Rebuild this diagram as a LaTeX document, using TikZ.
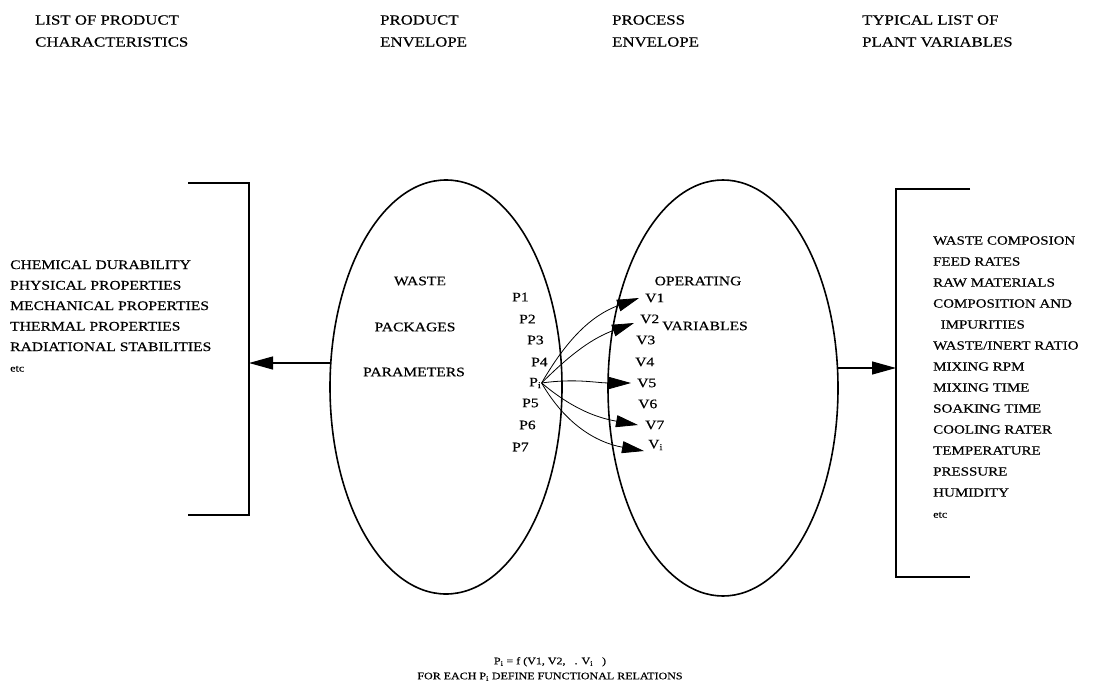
\documentclass[tikz,border=0pt]{standalone}
\usepackage{fontspec}
\setmainfont[FakeStretch=1.2,FakeBold=0.4]{Liberation Serif}
\usetikzlibrary{shapes.geometric,arrows.meta}

\tikzset{
  txt/.style={font=\fontsize{13}{20.5}\selectfont, inner sep=0},
  head/.style={font=\fontsize{14}{22}\selectfont, inner sep=0, align=left, anchor=west},
  env/.style={draw, line width=1.6pt, ellipse, inner sep=0},
  bigtip/.style={line width=1.2pt, -{Triangle[length=24pt,width=13pt]}},
  smalltip/.style={line width=0.8pt, -{Triangle[length=22pt,width=12pt]}},
}

\begin{document}
\begin{tikzpicture}[x=1pt,y=1pt]
\useasboundingbox (0,0) rectangle (1099,-695);
%
\node[head] (hlist) at (35,-31) {LIST OF PRODUCT\\CHARACTERISTICS};
\node[head] (hprod) at (380,-31) {PRODUCT\\ENVELOPE};
\node[head] (hproc) at (612,-31) {PROCESS\\ENVELOPE};
\node[head] (htyp) at (862,-31) {TYPICAL LIST OF\\PLANT VARIABLES};
%
\node[env, minimum width=232pt, minimum height=414pt] (penv) at (446,-387) {};
\node[env, minimum width=230pt, minimum height=416pt] (venv) at (723,-388) {};
%
\node[txt] (waste) at (420,-281) {WASTE};
\node[txt] (pack) at (415,-327) {PACKAGES};
\node[txt] (param) at (414,-372) {PARAMETERS};
\node[txt] (oper) at (698,-281) {OPERATING};
\node[txt] (vars) at (705,-326) {VARIABLES};
%
\node[txt, anchor=west] (p1) at (512,-297) {P1};
\node[txt, anchor=west] (p2) at (519,-319) {P2};
\node[txt, anchor=west] (p3) at (527,-340) {P3};
\node[txt, anchor=west] (p4) at (531,-362) {P4};
\node[txt, anchor=west] (pi) at (529,-383) {P\textsubscript{i}};
\node[txt, anchor=west] (p5) at (522,-403) {P5};
\node[txt, anchor=west] (p6) at (519,-425) {P6};
\node[txt, anchor=west] (p7) at (512,-447) {P7};
%
\node[txt, anchor=west] (v1) at (645,-298) {V1};
\node[txt, anchor=west] (v2) at (640,-319) {V2};
\node[txt, anchor=west] (v3) at (636,-340) {V3};
\node[txt, anchor=west] (v4) at (635,-362) {V4};
\node[txt, anchor=west] (v5) at (637,-383) {V5};
\node[txt, anchor=west] (v6) at (638,-404) {V6};
\node[txt, anchor=west] (v7) at (645,-425) {V7};
\node[txt, anchor=west] (vi) at (648,-445) {V\textsubscript{i}};
%
\draw[smalltip] (pi.east) to[out=60,in=200] ([xshift=-6pt]v1.west);
\draw[smalltip] (pi.east) to[out=45,in=200] ([xshift=-6pt,yshift=-4pt]v2.west);
\draw[smalltip] (pi.east) to[out=8,in=180] ([xshift=-6pt]v5.west);
\draw[smalltip] (pi.east) to[out=-40,in=170] ([xshift=-7pt]v7.west);
\draw[smalltip] (pi.east) to[out=-60,in=170] ([xshift=-4pt,yshift=-6pt]vi.west);
%
\draw[line width=1.5pt] (188,-183) -- (249,-183) -- (249,-515) -- (188,-515);
\coordinate (lbr) at (249,-363);
\coordinate (lout) at (331,-363);
\draw[bigtip] (lout) -- (lbr);
\node[txt, anchor=west, align=left] (chars) at (10,-316) {CHEMICAL DURABILITY\\PHYSICAL PROPERTIES\\MECHANICAL PROPERTIES\\THERMAL PROPERTIES\\RADIATIONAL STABILITIES\\{\fontsize{10}{20.5}\selectfont etc}};
%
\draw[line width=1.5pt] (970,-189) -- (896,-189) -- (896,-577) -- (970,-577);
\coordinate (rbr) at (896,-368);
\coordinate (rout) at (837,-368);
\draw[bigtip] (rout) -- (rbr);
\node[txt, anchor=west, align=left, font=\fontsize{12.5}{21}\selectfont] (plant) at (933,-377) {WASTE COMPOSION\\FEED RATES\\RAW MATERIALS\\COMPOSITION AND\\\ \ IMPURITIES\\WASTE/INERT RATIO\\MIXING RPM\\MIXING TIME\\SOAKING TIME\\COOLING RATER\\TEMPERATURE\\PRESSURE\\HUMIDITY\\{\fontsize{10}{21}\selectfont etc}};
%
\node[inner sep=0, align=center, font=\fontsize{10}{15}\selectfont] (rel) at (550,-669) {P\textsubscript{i} = f (V1, V2, \ \ . V\textsubscript{i} \ \ )\\FOR EACH P\textsubscript{i} DEFINE FUNCTIONAL RELATIONS};
%%%%%%%%%%%%%%%%%%%%%%%%%%%%%%%
\end{tikzpicture}
\end{document}
